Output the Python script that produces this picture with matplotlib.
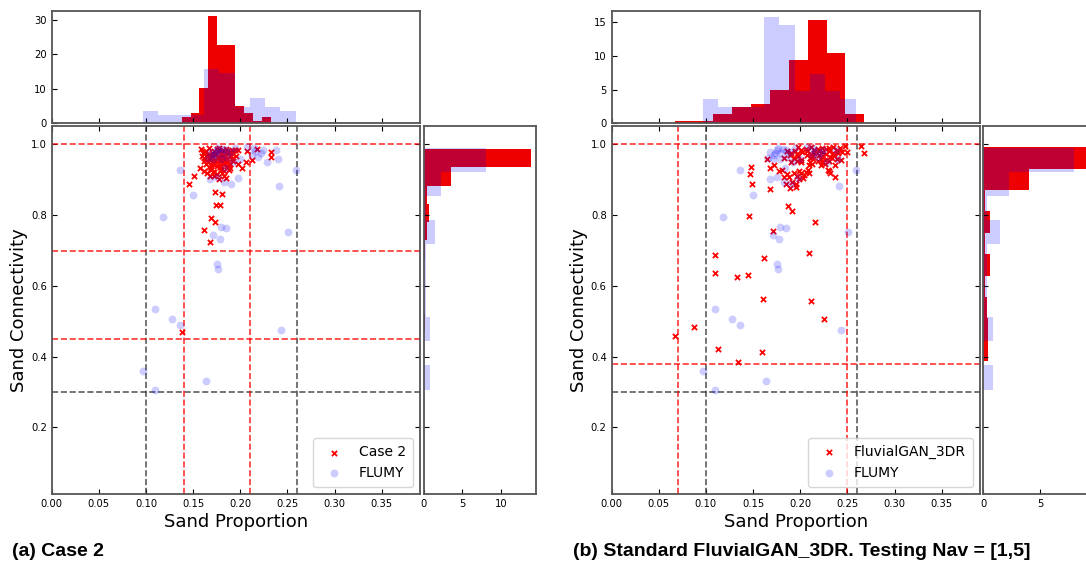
import matplotlib
matplotlib.use('Agg')
import matplotlib.pyplot as plt
import numpy as np

# ---------------- data ----------------
# FLUMY reference set (same in both panels)
flumy_x = [0.097, 0.110, 0.164, 0.110, 0.128, 0.136, 0.243, 0.176, 0.175, 0.171,
           0.179, 0.185, 0.178, 0.251, 0.118, 0.150, 0.168, 0.175, 0.183, 0.190,
           0.198, 0.241, 0.136, 0.259, 0.184, 0.240, 0.238, 0.228, 0.219, 0.222,
           0.214, 0.207, 0.200, 0.168, 0.172, 0.175, 0.171, 0.179, 0.176, 0.185,
           0.186, 0.192, 0.194, 0.166, 0.180, 0.189, 0.216, 0.224, 0.212, 0.173, 0.182]
flumy_y = [0.359, 0.307, 0.330, 0.534, 0.506, 0.491, 0.475, 0.647, 0.663, 0.745,
           0.767, 0.765, 0.732, 0.753, 0.796, 0.857, 0.902, 0.907, 0.894, 0.887,
           0.906, 0.883, 0.929, 0.927, 0.932, 0.959, 0.983, 0.949, 0.963, 0.975,
           0.989, 0.992, 0.960, 0.979, 0.970, 0.984, 0.960, 0.958, 0.990, 0.984,
           0.965, 0.951, 0.989, 0.962, 0.975, 0.978, 0.980, 0.985, 0.970, 0.976, 0.988]

# Case 2 generated set (panel a)
case2_x = [0.138, 0.1675, 0.162, 0.169, 0.173, 0.174, 0.178, 0.173, 0.181, 0.146,
           0.151, 0.157, 0.168, 0.172, 0.183, 0.202, 0.197, 0.206, 0.212, 0.207,
           0.218, 0.233, 0.233, 0.198,
           0.158, 0.164, 0.167, 0.172, 0.175, 0.177, 0.182, 0.185, 0.186, 0.191, 0.194,
           0.160, 0.163, 0.170, 0.171, 0.176, 0.181, 0.183, 0.187, 0.188, 0.192,
           0.159, 0.165, 0.166, 0.170, 0.174, 0.178, 0.180, 0.184, 0.189, 0.190, 0.195,
           0.161, 0.167, 0.168, 0.173, 0.176, 0.179, 0.183, 0.185, 0.191,
           0.162, 0.166, 0.171, 0.175, 0.177, 0.182, 0.186, 0.189, 0.192,
           0.164, 0.169, 0.171, 0.177, 0.180, 0.182, 0.188,
           0.167, 0.169, 0.175, 0.178, 0.180, 0.186, 0.189,
           0.161, 0.169, 0.172, 0.179, 0.183, 0.188,
           0.165, 0.171, 0.175, 0.181, 0.177, 0.185]
case2_y = [0.470, 0.723, 0.757, 0.793, 0.782, 0.828, 0.828, 0.866, 0.861, 0.888,
           0.911, 0.932, 0.911, 0.911, 0.910, 0.932, 0.946, 0.951, 0.955, 0.982,
           0.986, 0.979, 0.965, 0.984,
           0.987, 0.982, 0.989, 0.981, 0.986, 0.991, 0.983, 0.988, 0.980, 0.985, 0.983,
           0.975, 0.979, 0.976, 0.972, 0.980, 0.977, 0.971, 0.975, 0.979, 0.974,
           0.968, 0.971, 0.966, 0.967, 0.972, 0.965, 0.969, 0.964, 0.970, 0.966, 0.968,
           0.961, 0.958, 0.963, 0.957, 0.962, 0.956, 0.960, 0.955, 0.959,
           0.952, 0.949, 0.953, 0.950, 0.955, 0.948, 0.951, 0.946, 0.953,
           0.944, 0.941, 0.946, 0.943, 0.939, 0.945, 0.942,
           0.937, 0.933, 0.939, 0.936, 0.931, 0.938, 0.934,
           0.926, 0.929, 0.922, 0.927, 0.924, 0.929,
           0.918, 0.921, 0.915, 0.919, 0.903, 0.906]

# FluvialGAN_3DR generated set (panel b)
gan_x = [0.067, 0.087, 0.113, 0.134, 0.159, 0.161, 0.110, 0.110, 0.133, 0.145,
         0.162, 0.146, 0.171, 0.187, 0.191, 0.209, 0.211, 0.216, 0.225,
         0.147, 0.149, 0.168, 0.178, 0.181, 0.183, 0.188, 0.189, 0.195, 0.196,
         0.199, 0.201, 0.206, 0.209, 0.229, 0.237, 0.230, 0.191, 0.197, 0.203,
         0.193, 0.208, 0.232, 0.186, 0.199, 0.204, 0.185,
         0.148, 0.165, 0.168, 0.172, 0.201, 0.209, 0.186, 0.194, 0.264, 0.268, 0.250, 0.247,
         0.198, 0.206, 0.211, 0.219, 0.223, 0.231, 0.235, 0.242,
         0.201, 0.207, 0.215, 0.220, 0.227, 0.231, 0.239, 0.244,
         0.190, 0.197, 0.202, 0.211, 0.215, 0.223, 0.227, 0.235, 0.240,
         0.189, 0.198, 0.207, 0.212, 0.220, 0.224, 0.232, 0.236,
         0.193, 0.201, 0.210, 0.214, 0.222, 0.226, 0.234, 0.239,
         0.197, 0.210, 0.219, 0.223, 0.231,
         0.213, 0.222, 0.226, 0.237, 0.183, 0.190, 0.243]
gan_y = [0.458, 0.485, 0.421, 0.386, 0.413, 0.564, 0.687, 0.636, 0.625, 0.631,
         0.679, 0.799, 0.754, 0.827, 0.812, 0.694, 0.557, 0.780, 0.506,
         0.917, 0.887, 0.875, 0.925, 0.929, 0.907, 0.907, 0.878, 0.879, 0.888,
         0.901, 0.918, 0.923, 0.918, 0.929, 0.907, 0.925, 0.895, 0.912, 0.905,
         0.920, 0.928, 0.920, 0.915, 0.925, 0.913, 0.888,
         0.937, 0.959, 0.934, 0.942, 0.951, 0.942, 0.981, 0.981, 0.995, 0.975, 0.979, 0.995,
         0.992, 0.988, 0.993, 0.987, 0.991, 0.989, 0.994, 0.990,
         0.984, 0.981, 0.985, 0.980, 0.986, 0.982, 0.984, 0.979,
         0.977, 0.974, 0.978, 0.973, 0.976, 0.979, 0.972, 0.977, 0.975,
         0.970, 0.966, 0.969, 0.965, 0.971, 0.967, 0.964, 0.969,
         0.961, 0.957, 0.962, 0.958, 0.960, 0.956, 0.961, 0.959,
         0.953, 0.950, 0.954, 0.949, 0.952,
         0.945, 0.942, 0.946, 0.943, 0.962, 0.950, 0.955]

# marginal histograms (density) : bin edges + heights
flumy_px_edges = [0.0970, 0.1132, 0.1293, 0.1455, 0.1617, 0.1779, 0.1940, 0.2102, 0.2264, 0.2425, 0.2587]
flumy_px_dens = [3.64, 2.43, 2.43, 2.43, 15.8, 14.6, 4.85, 7.3, 4.85, 3.64]
flumy_sc_edges = [0.3070, 0.3754, 0.4438, 0.5122, 0.5806, 0.6490, 0.7174, 0.7858, 0.8542, 0.9226, 0.9910]
flumy_sc_dens = [0.86, 0.0, 0.86, 0.29, 0.29, 0.29, 1.43, 0.29, 2.29, 8.0]

case2_px_edges = [0.1377, 0.1472, 0.1567, 0.1662, 0.1757, 0.1852, 0.1947, 0.2042, 0.2137, 0.2232, 0.2327]
case2_px_dens = [1.8, 2.9, 10.2, 31.2, 22.8, 22.8, 5.0, 2.9, 0.8, 1.9]
case2_sc_edges = [0.470, 0.5217, 0.5734, 0.6251, 0.6768, 0.7285, 0.7802, 0.8319, 0.8836, 0.9353, 0.987]
case2_sc_dens = [0.19, 0.0, 0.0, 0.0, 0.19, 0.39, 0.77, 0.39, 3.6, 13.9]

gan_px_edges = [0.0674, 0.0875, 0.1075, 0.1276, 0.1476, 0.1677, 0.1878, 0.2078, 0.2279, 0.2479, 0.2680]
gan_px_dens = [0.4, 0.4, 1.4, 2.4, 2.9, 5.0, 9.4, 15.3, 10.4, 1.4]
gan_sc_edges = [0.3870, 0.4475, 0.5080, 0.5685, 0.6290, 0.6895, 0.7500, 0.8105, 0.8710, 0.9315, 0.9920]
gan_sc_dens = [0.44, 0.44, 0.3, 0.15, 0.6, 0.15, 0.6, 0.15, 3.97, 9.5]

# threshold lines
ref_vlines = [0.10, 0.26]
ref_hlines = [0.30]
case2_vlines = [0.14, 0.21]
case2_hlines = [1.0, 0.70, 0.45]
gan_vlines = [0.07, 0.25]
gan_hlines = [1.0, 0.38]

xticks_main = [0.00, 0.05, 0.10, 0.15, 0.20, 0.25, 0.30, 0.35]
yticks_main = [0.2, 0.4, 0.6, 0.8, 1.0]

# ---------------- figure ----------------
W, H = 1086, 568
fig = plt.figure(figsize=(W / 100, H / 100), dpi=100)

def ax_px(l, r, t, b):
    return fig.add_axes([l / W, 1 - b / H, (r - l) / W, (b - t) / H])

FRAME = '#555555'
RED_H = '#ee0000'

def style(ax):
    for s in ax.spines.values():
        s.set_edgecolor(FRAME)
        s.set_linewidth(1.3)
    ax.tick_params(direction='in', labelsize=7.2, length=3.5, width=0.8, colors='black')

def panel(x0, gx, gy, glabel, px_e, px_d, sc_e, sc_d, vl, hl, top_ylim, top_ticks, side_xlim, side_ticks):
    main = ax_px(x0, x0 + 368.3, 126, 494)
    top = ax_px(x0, x0 + 368.3, 10.7, 123.3)
    side = ax_px(x0 + 371.8, x0 + 484.3, 126, 494)

    main.scatter(gx, gy, marker='x', c='red', s=14, linewidths=1.3, label=glabel, zorder=3)
    main.scatter(flumy_x, flumy_y, marker='o', c='blue', alpha=0.2, s=32, linewidths=0,
                 label='FLUMY', zorder=4)
    for v in ref_vlines:
        main.axvline(v, color='#333333', ls='--', lw=1.2, alpha=0.8, zorder=2)
    for h in ref_hlines:
        main.axhline(h, color='#333333', ls='--', lw=1.2, alpha=0.8, zorder=2)
    for v in vl:
        main.axvline(v, color='red', ls='--', lw=1.2, alpha=0.8, zorder=2)
    for h in hl:
        main.axhline(h, color='red', ls='--', lw=1.2, alpha=0.8, zorder=2)
    main.set_xlim(0, 0.3905)
    main.set_ylim(0.012, 1.052)
    main.set_xticks(xticks_main)
    main.set_xticklabels(['%.2f' % t for t in xticks_main])
    main.set_yticks(yticks_main)
    main.set_yticklabels(['%.1f' % t for t in yticks_main])
    style(main)
    main.tick_params(top=True, right=True)
    main.set_xlabel('Sand Proportion', fontsize=13, labelpad=3)
    main.set_ylabel('Sand Connectivity', fontsize=13, labelpad=2)
    leg = main.legend(loc='lower right', fontsize=10, frameon=True, borderpad=0.5)
    leg.get_frame().set_edgecolor('#cccccc')

    top.stairs(px_d, px_e, fill=True, color=RED_H, lw=0)
    top.stairs(flumy_px_dens, flumy_px_edges, fill=True, color='blue', alpha=0.2, lw=0)
    top.set_xlim(0, 0.3905)
    top.set_ylim(*top_ylim)
    top.set_xticks(xticks_main)
    top.set_yticks(top_ticks)
    style(top)
    top.tick_params(labelbottom=False)

    side.stairs(sc_d, sc_e, fill=True, color=RED_H, lw=0, orientation='horizontal')
    side.stairs(flumy_sc_dens, flumy_sc_edges, fill=True, color='blue', alpha=0.2, lw=0,
                orientation='horizontal')
    side.set_ylim(0.012, 1.052)
    side.set_xlim(*side_xlim)
    side.set_yticks(yticks_main)
    side.set_xticks(side_ticks)
    style(side)
    side.tick_params(labelleft=False)

panel(51.7, case2_x, case2_y, 'Case 2', case2_px_edges, case2_px_dens,
      case2_sc_edges, case2_sc_dens, case2_vlines, case2_hlines,
      (0, 32.7), [0, 10, 20, 30], (0, 14.5), [0, 5, 10])
panel(611.6, gan_x, gan_y, 'FluvialGAN_3DR', gan_px_edges, gan_px_dens,
      gan_sc_edges, gan_sc_dens, gan_vlines, gan_hlines,
      (0, 16.7), [0, 5, 10, 15], (0, 9.9), [0, 5])

cap_font = ['Liberation Sans Narrow', 'Liberation Sans', 'DejaVu Sans']
fig.text(12 / W, 1 - 552 / H, '(a) Case 2', fontsize=14, fontweight='bold',
         family=cap_font, va='center', ha='left')
fig.text(573 / W, 1 - 552 / H, '(b) Standard FluvialGAN_3DR. Testing Nav = [1,5]',
         fontsize=14, fontweight='bold', family=cap_font, va='center', ha='left')

fig.savefig('out.png', dpi=100)
